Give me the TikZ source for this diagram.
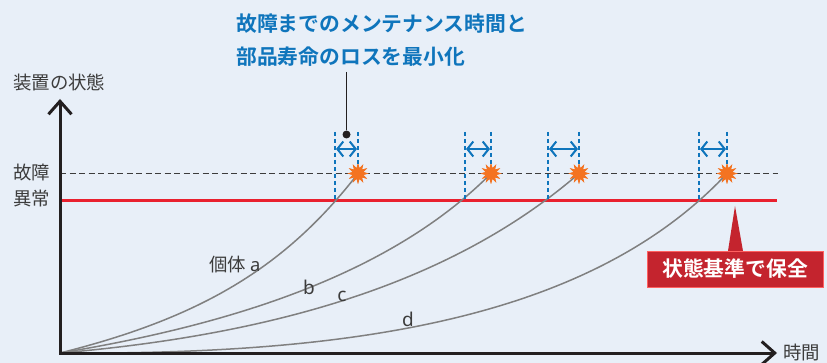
\documentclass[tikz,border=0pt]{standalone}
\usepackage{fontspec}
\setmainfont{Noto Sans}
\newfontfamily\jpfont{Noto Sans CJK JP}
\newfontfamily\jpbold{Noto Sans CJK JP Bold}
\usetikzlibrary{arrows.meta,shapes.geometric}
\definecolor{bgc}{HTML}{E8EFF8}
\definecolor{bluec}{HTML}{0F75BC}
\definecolor{redc}{HTML}{E9202E}
\definecolor{darkred}{HTML}{C4242E}
\definecolor{inkc}{HTML}{231F20}
\definecolor{labelc}{HTML}{3C3C3C}
\definecolor{curvec}{HTML}{808080}
\definecolor{starc}{HTML}{F47321}
\tikzset{
  axisline/.style={draw=inkc,line width=3pt,-{Straight Barb[length=13pt,width=23pt,line width=3pt]}},
  curveline/.style={draw=curvec,line width=1.5pt},
  guide/.style={draw=bluec,line width=1.6pt,dash pattern=on 4.5pt off 2.5pt},
  span/.style={draw=bluec,line width=2pt,{Straight Barb[length=6pt,width=15pt,line width=2pt]}-{Straight Barb[length=6pt,width=15pt,line width=2pt]}},
  burst/.style={star,star points=12,star point ratio=1.9,minimum size=21pt,inner sep=0pt,fill=starc,draw=none},
  lab/.style={inner sep=0pt,text=labelc,font=\jpfont\fontsize{18.4pt}{20pt}\selectfont},
  title/.style={inner sep=0pt,anchor=west,text=bluec,font=\jpbold\fontsize{20.8pt}{24pt}\selectfont},
}
\begin{document}
\begin{tikzpicture}[x=1pt,y=-1pt]
\useasboundingbox (0,0) rectangle (827,363);
\fill[bgc] (0,0) rectangle (827,363);
\coordinate (o) at (60,353);
\coordinate (ytop) at (60,99);
\coordinate (xend) at (777,353);
\coordinate (dashE) at (778,173.5);
\coordinate (dashW) at (60,173.5);
\coordinate (redE) at (777,200.5);
\coordinate (redW) at (60,200.5);
% dashed and red levels
\draw[draw=labelc,line width=1.6pt,dash pattern=on 6pt off 3.5pt] (dashW) -- (dashE);
\draw[draw=redc,line width=2.8pt] (redW) -- (redE);
% failure bursts
\node[burst] (sa) at (358,173.5) {};
\node[burst] (sb) at (491,173.5) {};
\node[burst] (sc) at (579,173.5) {};
\node[burst] (sd) at (727,173.5) {};
% curves
\draw[curveline] (o) .. controls (200,318) and (285,268) .. (sa.center);
\draw[curveline] (o) .. controls (230,325) and (390,275) .. (sb.center);
\draw[curveline] (o) .. controls (270,335) and (450,285) .. (sc.center);
\draw[curveline] (o) .. controls (350,355) and (590,320) .. (sd.center);
\node[burst] at (sa) {};
\node[burst] at (sb) {};
\node[burst] at (sc) {};
\node[burst] at (sd) {};
% guides
\foreach \n/\l/\r in {a/335/358,b/465/491,c/548/579,d/699/727}{
  \coordinate (l\n t) at (\l,132);
  \coordinate (l\n b) at (\l,200);
  \coordinate (r\n t) at (\r,132);
  \coordinate (r\n b) at (\r,165);
  \coordinate (l\n m) at (\l+1,149);
  \coordinate (r\n m) at (\r-1,149);
  \draw[guide] (l\n t) -- (l\n b);
  \draw[guide] (r\n t) -- (r\n b);
  \draw[span] (l\n m) -- (r\n m);
}
% axes
\draw[axisline] (o) -- (ytop);
\draw[axisline] (o) -- (xend);
\fill[inkc] (58.5,351.5) rectangle (61.5,354.5);
% leader
\coordinate (leadtop) at (346.5,72);
\node[circle,fill=inkc,inner sep=0pt,minimum size=8pt] (dot) at (346.5,134.5) {};
\draw[draw=inkc,line width=1.4pt] (leadtop) -- (dot);
% texts
\node[title] (t1) at (236,24) {故障までのメンテナンス時間と};
\node[title] (t2) at (236,57) {部品寿命のロスを最小化};
\node[lab,anchor=west] (ylab) at (13,83) {装置の状態};
\node[lab,anchor=west] (fail) at (13,173) {故障};
\node[lab,anchor=west] (abn) at (13,199) {異常};
\node[lab,anchor=west] (xlab) at (783,353) {時間};
\node[lab,anchor=west] (ia) at (209,265) {個体 {\fontspec{Noto Sans}a}};
\node[lab,font=\fontsize{19pt}{20pt}\selectfont] (ib) at (309,287) {b};
\node[lab,font=\fontsize{19pt}{20pt}\selectfont] (ic) at (342,296) {c};
\node[lab,font=\fontsize{19pt}{20pt}\selectfont] (id) at (408,319) {d};
% callout
\fill[darkred] (735,206) -- (743,251) -- (728,251) -- cycle;
\node[draw=red!50!pink,line width=.6pt,fill=darkred,minimum width=176pt,minimum height=36pt,inner sep=0pt,text=white,font=\jpbold\fontsize{20.8pt}{24pt}\selectfont] (cb) at (735,269) {状態基準で保全};
\end{tikzpicture}
\end{document}
